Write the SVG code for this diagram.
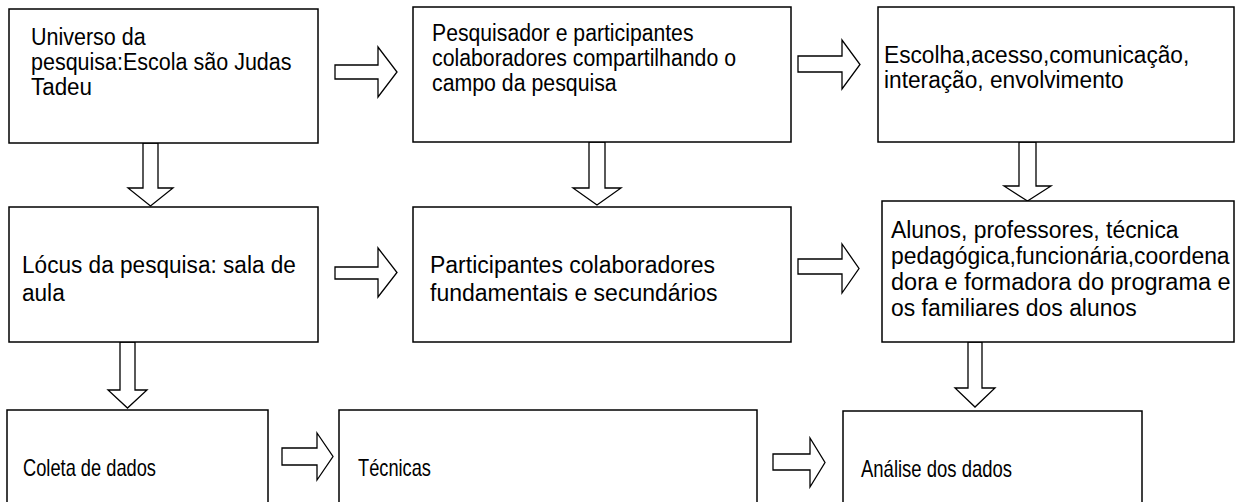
<svg xmlns="http://www.w3.org/2000/svg" width="1236" height="502" viewBox="0 0 1236 502">
<style>
.box{fill:#fff;stroke:#000;stroke-width:1.5}
.arr{fill:#fff;stroke:#000;stroke-width:1.3;stroke-linejoin:miter}
text{font-family:"Liberation Sans",Arial,sans-serif;fill:#000;font-size:23px}
.sm{font-size:24px}
</style>
<rect width="1236" height="502" fill="#fff"/>
<g id="connectors">
<polygon class="arr" points="335,65 378,65 378,47 397,72 378,97 378,79 335,79"/>
<polygon class="arr" points="798,56 842,56 842,40 860,64.5 842,89 842,72 798,72"/>
<polygon class="arr" points="335,267 378,267 378,248 397,272.5 378,297 378,279 335,279"/>
<polygon class="arr" points="798,259 842,259 842,244 859,268.5 842,293 842,274 798,274"/>
<polygon class="arr" points="282,448 317,448 317,433 333,456.5 317,480 317,465 282,465"/>
<polygon class="arr" points="773,454 810,454 810,438 825,462.5 810,487 810,470 773,470"/>
<polygon class="arr" points="143,143 158,143 158,188 173,188 150.5,206 128,188 143,188"/>
<polygon class="arr" points="589,142 605,142 605,188 621,188 597,205 573,188 589,188"/>
<polygon class="arr" points="1019,142 1036,142 1036,186 1051,186 1027.5,201 1004,186 1019,186"/>
<polygon class="arr" points="120,342 135,342 135,390 147,390 127.5,408 108,390 120,390"/>
<polygon class="arr" points="968,342 982,342 982,388 995,388 975,407 955,388 968,388"/>
</g>
<g id="n1">
<rect class="box" x="9" y="9" width="309" height="134"/>
<text x="31" y="45" textLength="114.7" lengthAdjust="spacingAndGlyphs">Universo da</text>
<text x="31" y="70" textLength="260.5" lengthAdjust="spacingAndGlyphs">pesquisa:Escola são Judas</text>
<text x="31" y="95" textLength="61" lengthAdjust="spacingAndGlyphs">Tadeu</text>
</g>
<g id="n2">
<rect class="box" x="413" y="7" width="378" height="135"/>
<text x="432" y="41" textLength="261.5" lengthAdjust="spacingAndGlyphs">Pesquisador e participantes</text>
<text x="432" y="66" textLength="304" lengthAdjust="spacingAndGlyphs">colaboradores compartilhando o</text>
<text x="432" y="91" textLength="184.7" lengthAdjust="spacingAndGlyphs">campo da pesquisa</text>
</g>
<g id="n3">
<rect class="box" x="878" y="7" width="356" height="135"/>
<text x="884" y="63" textLength="305.3" lengthAdjust="spacingAndGlyphs">Escolha,acesso,comunicação,</text>
<text x="884" y="88" textLength="239.7" lengthAdjust="spacingAndGlyphs">interação, envolvimento</text>
</g>
<g id="n4">
<rect class="box" x="9" y="207" width="309" height="135"/>
<text x="22" y="273" textLength="273.9" lengthAdjust="spacingAndGlyphs">Lócus da pesquisa: sala de</text>
<text x="22" y="301" textLength="42.7" lengthAdjust="spacingAndGlyphs">aula</text>
</g>
<g id="n5">
<rect class="box" x="413" y="207" width="378" height="135"/>
<text x="430" y="273" textLength="285" lengthAdjust="spacingAndGlyphs">Participantes colaboradores</text>
<text x="430" y="301" textLength="287.6" lengthAdjust="spacingAndGlyphs">fundamentais e secundários</text>
</g>
<g id="n6">
<rect class="box" x="882" y="201" width="352" height="141"/>
<text x="891" y="238" textLength="287.6" lengthAdjust="spacingAndGlyphs">Alunos, professores, técnica</text>
<text x="891" y="264" textLength="338.6" lengthAdjust="spacingAndGlyphs">pedagógica,funcionária,coordena</text>
<text x="891" y="290" textLength="339.7" lengthAdjust="spacingAndGlyphs">dora e formadora do programa e</text>
<text x="891" y="316" textLength="245.6" lengthAdjust="spacingAndGlyphs">os familiares dos alunos</text>
</g>
<g id="n7">
<rect class="box" x="7" y="410" width="261" height="100"/>
<text class="sm" x="23" y="476" textLength="133" lengthAdjust="spacingAndGlyphs">Coleta de dados</text>
</g>
<g id="n8">
<rect class="box" x="339" y="410" width="418" height="100"/>
<text class="sm" x="358" y="476" textLength="73" lengthAdjust="spacingAndGlyphs">Técnicas</text>
</g>
<g id="n9">
<rect class="box" x="843" y="411" width="299" height="100"/>
<text class="sm" x="861" y="477" textLength="151" lengthAdjust="spacingAndGlyphs">Análise dos dados</text>
</g>
</svg>
